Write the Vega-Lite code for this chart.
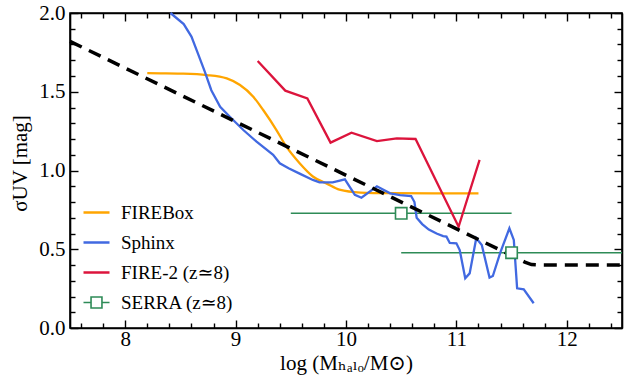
{
  "$schema": "https://vega.github.io/schema/vega-lite/v6.json",
  "width": 552,
  "height": 315,
  "autosize": "none",
  "padding": {"left": 70, "top": 13, "right": 11, "bottom": 56},
  "background": "white",
  "config": {
    "font": "Liberation Serif, DejaVu Serif, serif",
    "view": {"stroke": "black", "strokeWidth": 1.6},
    "axis": {"grid": false, "domainColor": "black", "tickColor": "black", "domainWidth": 1.6, "tickWidth": 1.4, "labelColor": "black", "titleColor": "black", "labelFont": "Liberation Serif, DejaVu Serif, serif", "titleFont": "Liberation Serif, DejaVu Serif, serif", "labelFontSize": 21, "titleFontSize": 21, "titleFontWeight": "normal"},
    "legend": {"labelFont": "Liberation Serif, DejaVu Serif, serif", "labelFontSize": 19, "labelColor": "black"}
  },
  "datasets": {
    "firebox": [
      {"series": "FIREBox", "x": 8.2, "y": 1.618}, {"series": "FIREBox", "x": 8.32, "y": 1.617}, {"series": "FIREBox", "x": 8.5, "y": 1.615},
      {"series": "FIREBox", "x": 8.74, "y": 1.606}, {"series": "FIREBox", "x": 8.92, "y": 1.585}, {"series": "FIREBox", "x": 9.04, "y": 1.543},
      {"series": "FIREBox", "x": 9.16, "y": 1.469}, {"series": "FIREBox", "x": 9.25, "y": 1.384}, {"series": "FIREBox", "x": 9.37, "y": 1.257},
      {"series": "FIREBox", "x": 9.46, "y": 1.151}, {"series": "FIREBox", "x": 9.58, "y": 1.046}, {"series": "FIREBox", "x": 9.7, "y": 0.962},
      {"series": "FIREBox", "x": 9.83, "y": 0.915}, {"series": "FIREBox", "x": 9.94, "y": 0.878}, {"series": "FIREBox", "x": 10.13, "y": 0.86},
      {"series": "FIREBox", "x": 10.4, "y": 0.856}, {"series": "FIREBox", "x": 10.8, "y": 0.855}, {"series": "FIREBox", "x": 11.2, "y": 0.855}
    ],
    "sphinx": [
      {"series": "Sphinx", "x": 8.41, "y": 2.0}, {"series": "Sphinx", "x": 8.53, "y": 1.93}, {"series": "Sphinx", "x": 8.6, "y": 1.85},
      {"series": "Sphinx", "x": 8.66, "y": 1.74}, {"series": "Sphinx", "x": 8.72, "y": 1.63}, {"series": "Sphinx", "x": 8.78, "y": 1.51},
      {"series": "Sphinx", "x": 8.86, "y": 1.405}, {"series": "Sphinx", "x": 8.95, "y": 1.34}, {"series": "Sphinx", "x": 9.07, "y": 1.257},
      {"series": "Sphinx", "x": 9.19, "y": 1.183}, {"series": "Sphinx", "x": 9.34, "y": 1.1}, {"series": "Sphinx", "x": 9.4, "y": 1.046},
      {"series": "Sphinx", "x": 9.48, "y": 1.014}, {"series": "Sphinx", "x": 9.58, "y": 0.98}, {"series": "Sphinx", "x": 9.7, "y": 0.94},
      {"series": "Sphinx", "x": 9.76, "y": 0.925}, {"series": "Sphinx", "x": 9.88, "y": 0.925}, {"series": "Sphinx", "x": 9.99, "y": 0.944},
      {"series": "Sphinx", "x": 10.08, "y": 0.845}, {"series": "Sphinx", "x": 10.14, "y": 0.827}, {"series": "Sphinx", "x": 10.28, "y": 0.9},
      {"series": "Sphinx", "x": 10.4, "y": 0.855}, {"series": "Sphinx", "x": 10.49, "y": 0.844}, {"series": "Sphinx", "x": 10.59, "y": 0.838},
      {"series": "Sphinx", "x": 10.62, "y": 0.8}, {"series": "Sphinx", "x": 10.64, "y": 0.7}, {"series": "Sphinx", "x": 10.69, "y": 0.66},
      {"series": "Sphinx", "x": 10.75, "y": 0.625}, {"series": "Sphinx", "x": 10.82, "y": 0.6}, {"series": "Sphinx", "x": 10.88, "y": 0.584},
      {"series": "Sphinx", "x": 10.91, "y": 0.58}, {"series": "Sphinx", "x": 10.94, "y": 0.54}, {"series": "Sphinx", "x": 11.0, "y": 0.538},
      {"series": "Sphinx", "x": 11.03, "y": 0.495}, {"series": "Sphinx", "x": 11.08, "y": 0.316}, {"series": "Sphinx", "x": 11.12, "y": 0.347},
      {"series": "Sphinx", "x": 11.18, "y": 0.57}, {"series": "Sphinx", "x": 11.23, "y": 0.527}, {"series": "Sphinx", "x": 11.3, "y": 0.32},
      {"series": "Sphinx", "x": 11.33, "y": 0.33}, {"series": "Sphinx", "x": 11.4, "y": 0.484}, {"series": "Sphinx", "x": 11.48, "y": 0.633},
      {"series": "Sphinx", "x": 11.52, "y": 0.559}, {"series": "Sphinx", "x": 11.55, "y": 0.252}, {"series": "Sphinx", "x": 11.61, "y": 0.246},
      {"series": "Sphinx", "x": 11.7, "y": 0.157}
    ],
    "fire2": [
      {"series": "FIRE-2 (z≃8)", "x": 9.2, "y": 1.695}, {"series": "FIRE-2 (z≃8)", "x": 9.45, "y": 1.507}, {"series": "FIRE-2 (z≃8)", "x": 9.65, "y": 1.458},
      {"series": "FIRE-2 (z≃8)", "x": 9.86, "y": 1.177}, {"series": "FIRE-2 (z≃8)", "x": 10.05, "y": 1.24}, {"series": "FIRE-2 (z≃8)", "x": 10.28, "y": 1.187},
      {"series": "FIRE-2 (z≃8)", "x": 10.46, "y": 1.204}, {"series": "FIRE-2 (z≃8)", "x": 10.63, "y": 1.2}, {"series": "FIRE-2 (z≃8)", "x": 11.02, "y": 0.643},
      {"series": "FIRE-2 (z≃8)", "x": 11.21, "y": 1.067}
    ],
    "serra": [
      {"series": "SERRA (z≃8)", "x": 10.5, "y": 0.728, "xlo": 9.5, "xhi": 11.5},
      {"series": "SERRA (z≃8)", "x": 11.5, "y": 0.478, "xlo": 10.5, "xhi": 12.5}
    ],
    "fit": [
      {"x": 7.5, "y": 1.82}, {"x": 11.55, "y": 0.443}, {"x": 11.62, "y": 0.418}, {"x": 11.68, "y": 0.403}, {"x": 11.75, "y": 0.4}, {"x": 12.5, "y": 0.4}
    ]
  },
  "resolve": {"scale": {"x": "independent", "y": "independent", "color": "shared"}, "axis": {"x": "independent", "y": "independent"}},
  "layer": [
    {
      "data": {"name": "serra"},
      "mark": {"type": "rule", "strokeWidth": 1.5},
      "encoding": {
        "x": {"field": "xlo", "type": "quantitative", "scale": {"domain": [7.5, 12.5], "nice": false, "zero": false},
          "axis": {"orient": "bottom", "values": [8, 9, 10, 11, 12], "ticks": true, "tickSize": -8, "labelPadding": 8, "domain": true, "title": "log (Mₕₐₗₒ/M⊙)", "titlePadding": 3}},
        "x2": {"field": "xhi"},
        "y": {"field": "y", "type": "quantitative", "scale": {"domain": [0, 2], "nice": false, "zero": false},
          "axis": {"orient": "left", "values": [0, 0.5, 1, 1.5, 2], "format": ".1f", "ticks": true, "tickSize": -8, "labelPadding": 13, "domain": true, "title": "σUV [mag]", "titlePadding": 8, "titleY": 150}},
        "color": {"field": "series", "type": "nominal",
          "scale": {"domain": ["FIREBox", "Sphinx", "FIRE-2 (z≃8)", "SERRA (z≃8)"], "range": ["#FFA500", "#4169E1", "#DC143C", "#2E8B57"]},
          "legend": {"title": null, "orient": "none", "legendX": 17, "legendY": 190, "symbolSize": 676, "symbolStrokeWidth": 2.3, "labelOffset": 15, "rowPadding": 10, "padding": 0,
            "encode": {"symbols": {"update": {
              "shape": {"signal": "datum.value === 'SERRA (z≃8)' ? 'M-1,0H-0.42M0.42,0H1M-0.42,-0.42H0.42V0.42H-0.42Z' : 'M-1,0H1'"},
              "fill": {"signal": "datum.value === 'SERRA (z≃8)' ? 'white' : 'transparent'"},
              "strokeWidth": {"signal": "datum.value === 'SERRA (z≃8)' ? 1.6 : 2.5"}
            }}}}
        }
      }
    },
    {
      "data": {"name": "firebox"},
      "mark": {"type": "line", "strokeWidth": 2.3, "interpolate": "monotone"},
      "encoding": {
        "x": {"field": "x", "type": "quantitative", "scale": {"domain": [7.5, 12.5], "nice": false, "zero": false},
          "axis": {"orient": "bottom", "values": [7.6, 7.8, 8.2, 8.4, 8.6, 8.8, 9.2, 9.4, 9.6, 9.8, 10.2, 10.4, 10.6, 10.8, 11.2, 11.4, 11.6, 11.8, 12.2, 12.4], "ticks": true, "tickSize": -5, "labels": false, "domain": false, "title": null}},
        "y": {"field": "y", "type": "quantitative", "scale": {"domain": [0, 2], "nice": false, "zero": false},
          "axis": {"orient": "left", "values": [0.1, 0.2, 0.3, 0.4, 0.6, 0.7, 0.8, 0.9, 1.1, 1.2, 1.3, 1.4, 1.6, 1.7, 1.8, 1.9], "ticks": true, "tickSize": -5, "labels": false, "domain": false, "title": null}},
        "color": {"field": "series", "type": "nominal"}
      }
    },
    {
      "data": {"name": "sphinx"},
      "mark": {"type": "line", "strokeWidth": 2.3},
      "encoding": {
        "x": {"field": "x", "type": "quantitative", "scale": {"domain": [7.5, 12.5], "nice": false, "zero": false},
          "axis": {"orient": "top", "values": [8, 9, 10, 11, 12], "ticks": true, "tickSize": -8, "labels": false, "domain": true, "title": null}},
        "y": {"field": "y", "type": "quantitative", "scale": {"domain": [0, 2], "nice": false, "zero": false},
          "axis": {"orient": "right", "values": [0, 0.5, 1, 1.5, 2], "ticks": true, "tickSize": -8, "labels": false, "domain": true, "title": null}},
        "color": {"field": "series", "type": "nominal"}
      }
    },
    {
      "data": {"name": "fire2"},
      "mark": {"type": "line", "strokeWidth": 2.3},
      "encoding": {
        "x": {"field": "x", "type": "quantitative", "scale": {"domain": [7.5, 12.5], "nice": false, "zero": false},
          "axis": {"orient": "top", "values": [7.6, 7.8, 8.2, 8.4, 8.6, 8.8, 9.2, 9.4, 9.6, 9.8, 10.2, 10.4, 10.6, 10.8, 11.2, 11.4, 11.6, 11.8, 12.2, 12.4], "ticks": true, "tickSize": -5, "labels": false, "domain": false, "title": null}},
        "y": {"field": "y", "type": "quantitative", "scale": {"domain": [0, 2], "nice": false, "zero": false},
          "axis": {"orient": "right", "values": [0.1, 0.2, 0.3, 0.4, 0.6, 0.7, 0.8, 0.9, 1.1, 1.2, 1.3, 1.4, 1.6, 1.7, 1.8, 1.9], "ticks": true, "tickSize": -5, "labels": false, "domain": false, "title": null}},
        "color": {"field": "series", "type": "nominal"}
      }
    },
    {
      "data": {"name": "fit"},
      "mark": {"type": "line", "color": "black", "strokeWidth": 3.5, "strokeDash": [13, 8]},
      "encoding": {
        "x": {"field": "x", "type": "quantitative", "scale": {"domain": [7.5, 12.5], "nice": false, "zero": false}, "axis": null},
        "y": {"field": "y", "type": "quantitative", "scale": {"domain": [0, 2], "nice": false, "zero": false}, "axis": null}
      }
    },
    {
      "data": {"name": "serra"},
      "mark": {"type": "point", "shape": "square", "filled": true, "fill": "white", "stroke": "#2E8B57", "strokeWidth": 1.6, "size": 130, "opacity": 1},
      "encoding": {
        "x": {"field": "x", "type": "quantitative", "scale": {"domain": [7.5, 12.5], "nice": false, "zero": false}, "axis": null},
        "y": {"field": "y", "type": "quantitative", "scale": {"domain": [0, 2], "nice": false, "zero": false}, "axis": null}
      }
    }
  ]
}
